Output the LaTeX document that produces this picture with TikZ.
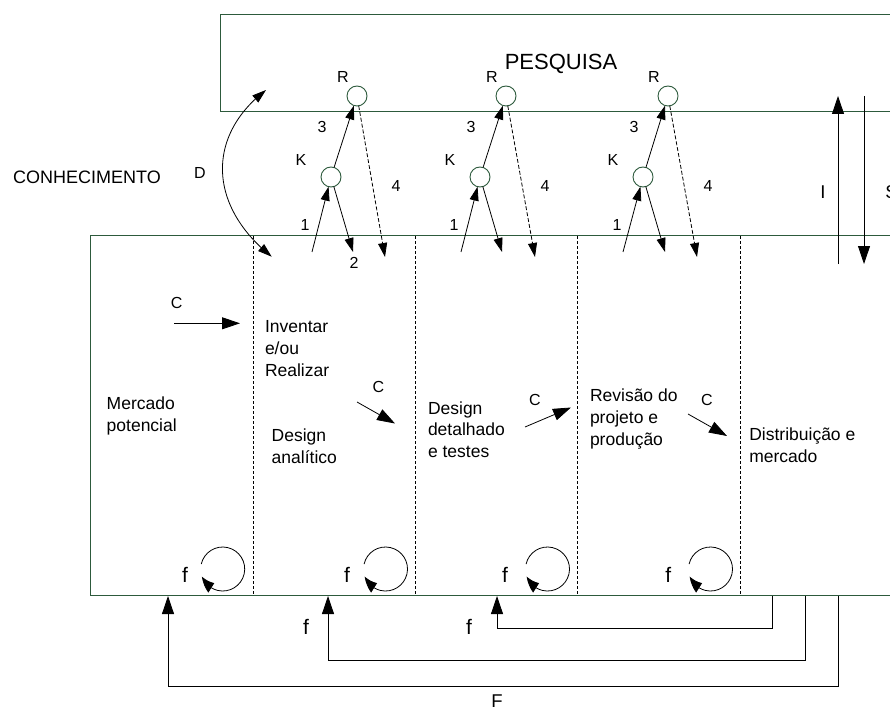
\documentclass[tikz,border=0pt]{standalone}
\usepackage{fontspec}
\setmainfont{Liberation Sans}
\usetikzlibrary{arrows.meta,calc,bending}
\definecolor{boxgreen}{RGB}{45,90,60}
\begin{document}
\begin{tikzpicture}[x=1pt,y=-1pt,
  every node/.style={inner sep=0pt, outer sep=0pt},
  box/.style={draw=boxgreen, line width=1pt},
  ring/.style={circle, draw=boxgreen, line width=0.9pt, minimum size=20pt, fill=white},
  arr/.style={-{Triangle[length=14pt,width=9pt]}, line width=0.8pt},
  bigarr/.style={-{Triangle[length=18pt,width=12pt]}, line width=0.8pt},
  looparr/.style={-{Triangle[length=15pt,width=11pt,bend]}, line width=0.8pt},
  sep/.style={dash pattern=on 3pt off 2pt, line width=0.8pt},
  dasharr/.style={arr, dash pattern=on 4pt off 2pt},
  body/.style={font=\fontsize{17.5}{21.7}\selectfont, align=left, anchor=base west},
  lbl/.style={font=\fontsize{16}{19}\selectfont},
  biglbl/.style={font=\fontsize{18.5}{22}\selectfont},
  flbl/.style={font=\fontsize{21}{24}\selectfont},
]
\useasboundingbox (0,0) rectangle (890,711);
\fill[white] (0,0) rectangle (890,711);
\clip (0,0) rectangle (890,711);

% boxes
\draw[box] (905,15) -- (220,15) -- (220,111.7) -- (905,111.7);
\draw[box] (905,235.5) -- (90,235.5) -- (90,595.5) -- (905,595.5);
\node[font=\fontsize{22}{26}\selectfont] (pesq) at (561,64) {PESQUISA};
\node[font=\fontsize{18}{22}\selectfont] (conh) at (87,177) {CONHECIMENTO};

% column separators
\foreach \x in {253,415,577.5,740} \draw[sep] (\x,236) -- (\x,595);

% K / R structures
\foreach \i/\kx/\rx/\ax/\bx/\dx in {1/331/357/312/353/385, 2/480/506/461/502/535, 3/643/668/623/665/697} {
  \node[ring] (K\i) at (\kx,177) {};
  \node[ring] (R\i) at (\rx,96) {};
  \coordinate (a\i) at (\ax,252);
  \coordinate (b\i) at (\bx,252);
  \coordinate (d\i) at (\dx,257);
  \draw[arr] (a\i) -- (K\i);
  \draw[arr] (K\i) -- (b\i);
  \draw[arr] (K\i) -- (R\i);
  \draw[dasharr] (R\i) -- (d\i);
  \node[lbl] (lR\i) at ({\rx-14},77) {R};
  \node[lbl] (l3\i) at ({\kx-9},127) {3};
  \node[lbl] (lK\i) at ({\kx-30},160) {K};
  \node[lbl] (l1\i) at ({\kx-26},225) {1};
  \node[lbl] (l4\i) at ({\kx+65},186) {4};
}
\node[lbl] (l2) at (354,263) {2};

% D curved double arrow
\coordinate (dlow) at (271.7,256.7);
\coordinate (dhigh) at (266,90);
\draw[line width=0.8pt, {Triangle[length=14pt,width=9pt]}-{Triangle[length=14pt,width=9pt]}]
  (dlow) .. controls (207,205) and (207,135) .. (dhigh);
\node[font=\fontsize{16}{19}\selectfont] (lD) at (200,173) {D};

% I and S arrows
\coordinate (ib) at (838,264);
\coordinate (it) at (838,96);
\coordinate (st) at (864,96);
\coordinate (sb) at (864,264);
\draw[bigarr] (ib) -- (it);
\draw[bigarr] (st) -- (sb);
\node[biglbl] (lI) at (823,192) {I};
\node[biglbl] (lS) at (891.5,192) {S};

% stage texts (anchor = baseline of last line)
\node[body] (t1) at (106.7,431) {Mercado\\potencial};
\node[body] (t2) at (265,376.1) {Inventar\\e/ou\\Realizar};
\node[body] (t3) at (271.7,463.4) {Design\\analítico};
\node[body] (t4) at (428,457.4) {Design\\detalhado\\e testes};
\node[body] (t5) at (590,445.1) {Revisão do\\projeto e\\produção};
\node[body] (t6) at (749.3,462.4) {Distribuição e\\mercado};

% C arrows
\coordinate (c1a) at (174,323.3); \coordinate (c1b) at (240,323.3);
\coordinate (c2a) at (357,402);   \coordinate (c2b) at (395,423.5);
\coordinate (c3a) at (525,427);   \coordinate (c3b) at (571,407.5);
\coordinate (c4a) at (688,414);   \coordinate (c4b) at (727,436);
\draw[bigarr] (c1a) -- (c1b);
\draw[bigarr] (c2a) -- (c2b);
\draw[bigarr] (c3a) -- (c3b);
\draw[bigarr] (c4a) -- (c4b);
\node[lbl] (lC1) at (176.7,303) {C};
\node[lbl] (lC2) at (378.3,386.7) {C};
\node[lbl] (lC3) at (535,400) {C};
\node[lbl] (lC4) at (707,400) {C};

% self loops
\foreach \i/\cx/\fx in {1/222.7/185, 2/385.5/347, 3/547.5/505, 4/710.5/668.3} {
  \coordinate (lc\i) at (\cx,569);
  \draw[looparr] ($(lc\i)+(-167:22)$) arc[start angle=-167, end angle=160, radius=22];
  \node[flbl] (lf\i) at (\fx,575) {f};
}

% feedback lines
\coordinate (F1s) at (838,596);   \coordinate (F1e) at (168,596);
\coordinate (F2s) at (805,596);   \coordinate (F2e) at (328,596);
\coordinate (F3s) at (772.3,596); \coordinate (F3e) at (497,596);
\draw[bigarr] (F1s) -- (838,686.7) -| (F1e);
\draw[bigarr] (F2s) -- (805,660.7) -| (F2e);
\draw[bigarr] (F3s) -- (772.3,628) -| (F3e);
\node[flbl] (lf5) at (306,627) {f};
\node[flbl] (lf6) at (469,627) {f};
\node[biglbl] (lF) at (497,701.5) {F};
\end{tikzpicture}
\end{document}
